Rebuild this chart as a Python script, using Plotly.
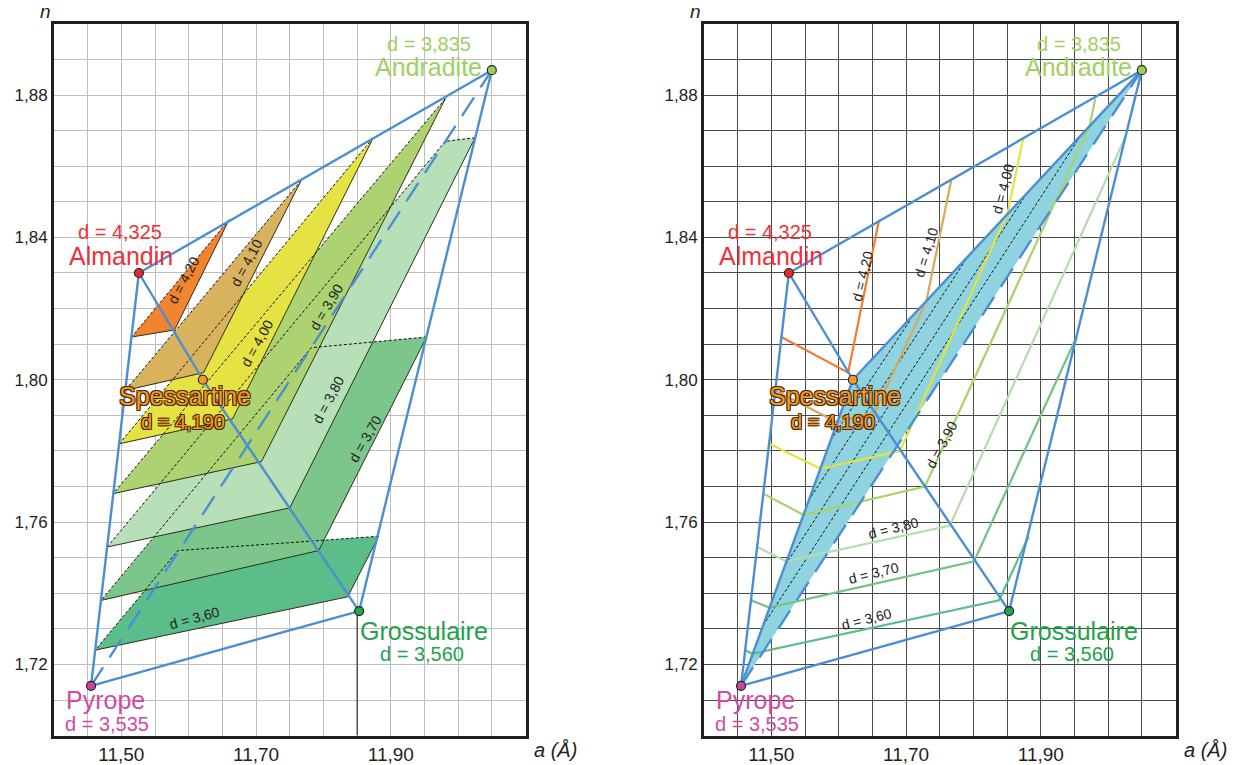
import plotly.graph_objects as go

# ---------------- data ----------------
em_names = ["Pyrope", "Almandin", "Spessartine", "Grossulaire", "Andradite"]
em_a = [11.455, 11.526, 11.621, 11.853, 12.050]
em_n = [1.714, 1.830, 1.800, 1.735, 1.887]
em_d = ["d = 3,535", "d = 4,325", "d = 4,190", "d = 3,560", "d = 3,835"]
em_dot = ["#c8469e", "#e8292b", "#f59a28", "#29a350", "#9ccc5a"]
em_txt = ["#d14aa3", "#ee3238", "#f39a2d", "#1ea34c", "#a0d063"]
# label positions (a, n) for name and density text
name_a = [11.477, 11.499, 11.594, 11.949, 11.956]
name_n = [1.7100, 1.8349, 1.7955, 1.7295, 1.8880]
dlab_a = [11.478, 11.498, 11.592, 11.947, 11.956]
dlab_n = [1.7033, 1.8414, 1.7880, 1.7228, 1.8943]

# blue edges (index pairs into end-members)
edges_left = [(0, 1), (1, 4), (1, 2), (2, 3), (0, 3), (3, 4)]
edges_right = [(0, 1), (1, 4), (1, 2), (2, 3), (0, 3), (3, 4), (0, 2), (2, 4)]
edge_dashed = (0, 4)

# iso-density planes (left panel), vertices
plane_d = ["d = 4,20", "d = 4,10", "d = 4,00", "d = 3,90", "d = 3,80", "d = 3,70", "d = 3,60"]
plane_a = [
    [11.515, 11.579, 11.660],
    [11.506, 11.622, 11.767],
    [11.497, 11.665, 11.874],
    [11.488, 11.708, 11.981],
    [11.479, 11.750, 12.025, 11.981],
    [11.470, 11.793, 11.953, 11.782],
    [11.461, 11.836, 11.882, 11.584],
]
plane_n = [
    [1.812, 1.814, 1.845],
    [1.797, 1.802, 1.856],
    [1.782, 1.789, 1.868],
    [1.768, 1.777, 1.879],
    [1.753, 1.764, 1.868, 1.867],
    [1.738, 1.752, 1.812, 1.809],
    [1.724, 1.739, 1.756, 1.752],
]
plane_fill = ["#f2832f", "#d9b25e", "#e5e244", "#acd271", "#b7dfb8", "#7cc58b", "#5bbd89"]
plane_line = ["#f47a2c", "#d6aa5a", "#e3e33a", "#a9d16c", "#b5dcae", "#74c185", "#5bbd89"]
plane_lab_a = [11.5925, 11.6856, 11.7013, 11.8044, 11.8072, 11.862, 11.6087]
plane_lab_n = [1.828, 1.8328, 1.8104, 1.8204, 1.7943, 1.7833, 1.7330]
plane_lab_ang = [-62, -62, -61, -59, -62, -60, -15]

# iso-density traces (right panel)
rline_a = [
    [11.515, 11.614, 11.660],
    [11.506, 11.598, 11.654, 11.730, 11.767],
    [11.497, 11.573, 11.691, 11.851, 11.874],
    [11.488, 11.548, 11.728, 11.972, 11.981],
    [11.479, 11.522, 11.765, 12.025],
    [11.470, 11.497, 11.801, 11.953],
    [11.461, 11.472, 11.838, 11.882],
]
rline_n = [
    [1.812, 1.802, 1.845],
    [1.797, 1.788, 1.791, 1.822, 1.856],
    [1.782, 1.775, 1.780, 1.847, 1.868],
    [1.768, 1.762, 1.770, 1.871, 1.879],
    [1.753, 1.749, 1.759, 1.868],
    [1.738, 1.736, 1.749, 1.812],
    [1.724, 1.723, 1.738, 1.756],
]
rlab_a = [11.6356, 11.7306, 11.8434, 11.7523, 11.6816, 11.652, 11.6416]
rlab_n = [1.8291, 1.8358, 1.8537, 1.7817, 1.7582, 1.7457, 1.7327]
rlab_ang = [-76, -73, -75, -62, -14, -14, -14]

# dashed guide lines inside the Pyrope-Spessartine-Andradite face (right panel)
guide_a0 = [11.488, 11.521, 11.555, 11.588]
guide_n0 = [1.731, 1.748, 1.766, 1.783]
guide_a1 = [11.964, 11.878, 11.793, 11.707]
guide_n1 = [1.870, 1.852, 1.835, 1.817]

# ---------------- figure ----------------
BLUE = "#4a8fd2"
fig = go.Figure()


def add(tr, panel):
    tr.update(xaxis="x" if panel == 0 else "x2", yaxis="y" if panel == 0 else "y2")
    fig.add_trace(tr)


# left panel: plane fills
for i in range(len(plane_d) - 1, -1, -1):
    xs = plane_a[i] + [plane_a[i][0]]
    ys = plane_n[i] + [plane_n[i][0]]
    add(go.Scatter(x=xs, y=ys, mode="lines", fill="toself", fillcolor=plane_fill[i],
                   line=dict(width=0), hoverinfo="skip", showlegend=False), 0)
# left panel: plane edges
for i in range(len(plane_d)):
    pa, pn = plane_a[i], plane_n[i]
    add(go.Scatter(x=pa[:3], y=pn[:3], mode="lines",
                   line=dict(color="#2e2e16", width=1), hoverinfo="skip", showlegend=False), 0)
    hx = pa[2:] + [pa[0]]
    hy = pn[2:] + [pn[0]]
    add(go.Scatter(x=hx, y=hy, mode="lines",
                   line=dict(color="#111111", width=1, dash="3px,2px"), hoverinfo="skip", showlegend=False), 0)

# right panel: cyan face
add(go.Scatter(x=[em_a[0], em_a[2], em_a[4], em_a[0]], y=[em_n[0], em_n[2], em_n[4], em_n[0]],
               mode="lines", fill="toself", fillcolor="#8fd3e0", line=dict(width=0),
               hoverinfo="skip", showlegend=False), 1)
for k in range(len(guide_a0)):
    add(go.Scatter(x=[guide_a0[k], guide_a1[k]], y=[guide_n0[k], guide_n1[k]], mode="lines",
                   line=dict(color="#111111", width=1, dash="3px,2px"), hoverinfo="skip", showlegend=False), 1)
for i in range(len(rline_a)):
    add(go.Scatter(x=rline_a[i], y=rline_n[i], mode="lines",
                   line=dict(color=plane_line[i], width=2.2), hoverinfo="skip", showlegend=False), 1)

# vertical line below Grossulaire (left)
add(go.Scatter(x=[11.85, 11.85], y=[1.70, em_n[3]], mode="lines",
               line=dict(color="#111111", width=1), hoverinfo="skip", showlegend=False), 0)

# blue edges
for panel, edges in ((0, edges_left), (1, edges_right)):
    for (p, q) in edges:
        add(go.Scatter(x=[em_a[p], em_a[q]], y=[em_n[p], em_n[q]], mode="lines",
                       line=dict(color=BLUE, width=2.4), hoverinfo="skip", showlegend=False), panel)
    p, q = edge_dashed
    add(go.Scatter(x=[em_a[p], em_a[q]], y=[em_n[p], em_n[q]], mode="lines",
                   line=dict(color=BLUE, width=2.4, dash="22px,12px"), hoverinfo="skip", showlegend=False), panel)
    add(go.Scatter(x=em_a, y=em_n, mode="markers",
                   marker=dict(size=9, color=em_dot, line=dict(color="#222222", width=1.2)),
                   hoverinfo="skip", showlegend=False), panel)

FONT = "Liberation Sans, Arial, sans-serif"
ann = []
outline = "1px 1px 0 #4a2800, -1px -1px 0 #4a2800, 1px -1px 0 #4a2800, -1px 1px 0 #4a2800"
for panel in (0, 1):
    xr = "x" if panel == 0 else "x2"
    yr = "y" if panel == 0 else "y2"
    for i in range(5):
        sh = outline if i == 2 else "none"
        ann.append(dict(x=name_a[i], y=name_n[i], xref=xr, yref=yr, text=em_names[i], showarrow=False,
                        font=dict(family=FONT, size=25, color=em_txt[i], shadow=sh)))
        ann.append(dict(x=dlab_a[i], y=dlab_n[i], xref=xr, yref=yr, text=em_d[i], showarrow=False,
                        font=dict(family=FONT, size=20, color=em_txt[i], shadow=sh)))
    la = plane_lab_a if panel == 0 else rlab_a
    ln = plane_lab_n if panel == 0 else rlab_n
    lg = plane_lab_ang if panel == 0 else rlab_ang
    for i in range(len(plane_d)):
        ann.append(dict(x=la[i], y=ln[i], xref=xr, yref=yr, text=plane_d[i], showarrow=False,
                        textangle=lg[i], font=dict(family=FONT, size=14, color="#222222")))
    ann.append(dict(x=0, y=1, xref=xr + " domain", yref=yr + " domain", text="<i>n</i>", showarrow=False,
                    xanchor="right", yanchor="bottom", xshift=-1, yshift=0,
                    font=dict(family=FONT, size=19, color="#222222")))
    ann.append(dict(x=1, y=0, xref=xr + " domain", yref=yr + " domain", text="<i>a (Å)</i>", showarrow=False,
                    xanchor="left", yanchor="top", xshift=6, yshift=-1,
                    font=dict(family=FONT, size=20, color="#222222")))


def xaxis(dom, gridc):
    return dict(domain=dom, range=[11.40, 12.10], tickvals=[11.5, 11.7, 11.9],
                ticktext=["11,50", "11,70", "11,90"], ticks="", showgrid=True, gridcolor=gridc,
                gridwidth=1, zeroline=False, showline=True, mirror=True, linewidth=3,
                linecolor="#231f20", tickfont=dict(family=FONT, size=19, color="#231f20"),
                minor=dict(tick0=11.40, dtick=0.05, showgrid=True, gridcolor=gridc, gridwidth=1),
                fixedrange=True)


def yaxis(dom, gridc):
    return dict(domain=dom, range=[1.70, 1.90], tickvals=[1.72, 1.76, 1.80, 1.84, 1.88],
                ticktext=["1,72", "1,76", "1,80", "1,84", "1,88"], ticks="", showgrid=True,
                gridcolor=gridc, gridwidth=1, zeroline=False, showline=True, mirror=True, linewidth=3,
                linecolor="#231f20", tickfont=dict(family=FONT, size=17, color="#231f20"),
                minor=dict(tick0=1.70, dtick=0.01, showgrid=True, gridcolor=gridc, gridwidth=1),
                fixedrange=True)


W, H = 1237, 765
ydom = [1 - 738.5 / H, 1 - 24 / H]
fig.update_layout(
    width=W, height=H, margin=dict(l=0, r=0, t=0, b=0),
    paper_bgcolor="white", plot_bgcolor="white", showlegend=False,
    xaxis=xaxis([54 / W, 525.5 / W], "#bdbdbd"),
    yaxis=yaxis(ydom, "#bdbdbd"),
    xaxis2=xaxis([704 / W, 1175.5 / W], "#4a4a4a"),
    yaxis2=yaxis(ydom, "#4a4a4a"),
    annotations=ann,
)
fig.update_layout(yaxis2=dict(anchor="x2"), xaxis2=dict(anchor="y2"))
# remove the default page margin so the figure sits at the window's top-left corner
fig.write_html("out.html", config={"displayModeBar": False},
               post_script="document.body.style.margin='0';"
                           "document.documentElement.style.overflow='hidden';")
